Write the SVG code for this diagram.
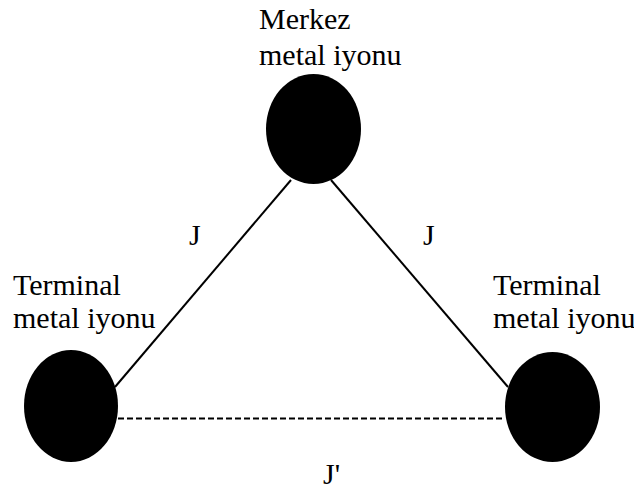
<svg xmlns="http://www.w3.org/2000/svg" width="634" height="494" viewBox="0 0 634 494">
<style>
.n{fill:#000}
.c{stroke:#000;stroke-width:2;fill:none}
.d{stroke-dasharray:6 3}
</style>
<rect width="634" height="494" fill="#fff"/>
<g id="connectors">
<line class="c" x1="115" y1="387" x2="291" y2="180"/>
<line class="c" x1="331" y1="180" x2="508" y2="387"/>
<line class="c d" x1="118" y1="418.5" x2="505" y2="418.5"/>
<text font-family="Liberation Serif" font-size="30" x="189" y="245">J</text>
<text font-family="Liberation Serif" font-size="30" x="423" y="245">J</text>
<text font-family="Liberation Serif" font-size="30" x="323" y="484">J'</text>
</g>
<g id="center">
<ellipse class="n" cx="313.5" cy="129" rx="47.5" ry="55"/>
<text font-family="Liberation Serif" font-size="30" x="259" y="29">Merkez</text>
<text font-family="Liberation Serif" font-size="30" x="259" y="65">metal iyonu</text>
</g>
<g id="terminal-left">
<ellipse class="n" cx="71" cy="406" rx="47" ry="56"/>
<text font-family="Liberation Serif" font-size="30" x="13" y="295">Terminal</text>
<text font-family="Liberation Serif" font-size="30" x="13" y="328">metal iyonu</text>
</g>
<g id="terminal-right">
<ellipse class="n" cx="552.5" cy="407" rx="47.5" ry="55"/>
<text font-family="Liberation Serif" font-size="30" x="493" y="295">Terminal</text>
<text font-family="Liberation Serif" font-size="30" x="493" y="328">metal iyonu</text>
</g>
</svg>
